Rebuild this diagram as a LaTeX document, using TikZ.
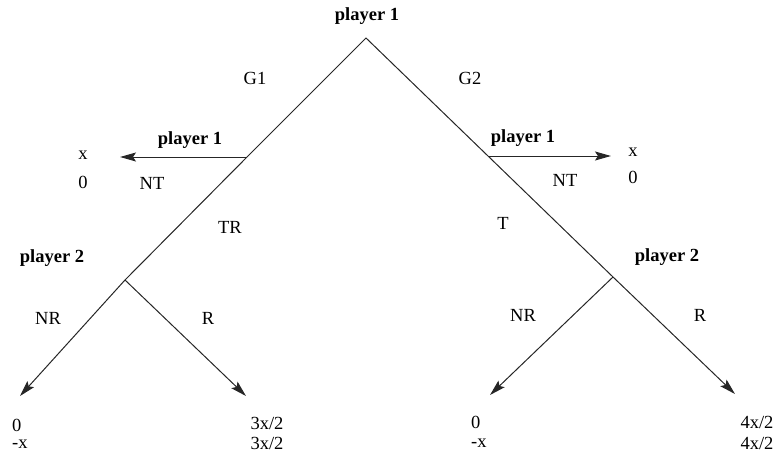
\documentclass[tikz,border=0pt]{standalone}
\usepackage{fontspec}
\setmainfont{Liberation Serif}
\usetikzlibrary{arrows.meta}
\begin{document}
\begin{tikzpicture}[x=1pt,y=-1pt,
  edge/.style={line width=1pt,draw=black!85},
  arr/.style={edge,-{Stealth[length=16pt,width=9pt,inset=3pt]}},
  lab/.style={font=\fontsize{18.5}{21}\selectfont,inner sep=0pt},
  plab/.style={lab,font=\fontsize{18.5}{21}\selectfont\bfseries}]
\useasboundingbox (0,0) rectangle (774,458);
% tree nodes
\coordinate (r) at (366,38);
\coordinate (a) at (247,157);
\coordinate (b) at (125,280);
\coordinate (c) at (488,156);
\coordinate (d) at (613,277);
\coordinate (aE) at (120,157);
\coordinate (cE) at (611,156);
\coordinate (bNR) at (20,396);
\coordinate (bR) at (246,396);
\coordinate (dNR) at (490,395);
\coordinate (dR) at (735,394);
% edges
\draw[edge] (b) -- (a) -- (r) -- (c) -- (d);
\draw[arr] (a) -- (aE);
\draw[arr] (c) -- (cE);
\draw[arr] (b) -- (bNR);
\draw[arr] (b) -- (bR);
\draw[arr] (d) -- (dNR);
\draw[arr] (d) -- (dR);
% labels
\node[plab] (p0) at (367,16) {player 1};
\node[lab] (g1) at (255,78) {G1};
\node[lab] (g2) at (470,78) {G2};
\node[plab] (p1l) at (190,140) {player 1};
\node[lab] (xl) at (83,155) {x};
\node[lab] (zl) at (83,182) {0};
\node[lab] (ntl) at (152,183) {NT};
\node[lab] (tr) at (230,227) {TR};
\node[plab] (p1r) at (523,138) {player 1};
\node[lab] (xr) at (633,152) {x};
\node[lab] (zr) at (633,177) {0};
\node[lab] (ntr) at (565,180) {NT};
\node[lab] (t) at (503,223) {T};
\node[plab] (p2l) at (52,258) {player 2};
\node[lab] (nrl) at (48,318) {NR};
\node[lab] (rl) at (208,318) {R};
\node[lab,anchor=west] (b1) at (12,425) {0};
\node[lab,anchor=west] (b2) at (12,444) {-x};
\node[lab] (c1) at (267,423) {3x/2};
\node[lab] (c2) at (267,443) {3x/2};
\node[plab] (p2r) at (667,257) {player 2};
\node[lab] (nrr) at (523,315) {NR};
\node[lab] (rr) at (700,315) {R};
\node[lab,anchor=west] (d1) at (471,422) {0};
\node[lab,anchor=west] (d2) at (471,443) {-x};
\node[lab] (e1) at (757,422) {4x/2};
\node[lab] (e2) at (757,443) {4x/2};
\end{tikzpicture}
\end{document}
